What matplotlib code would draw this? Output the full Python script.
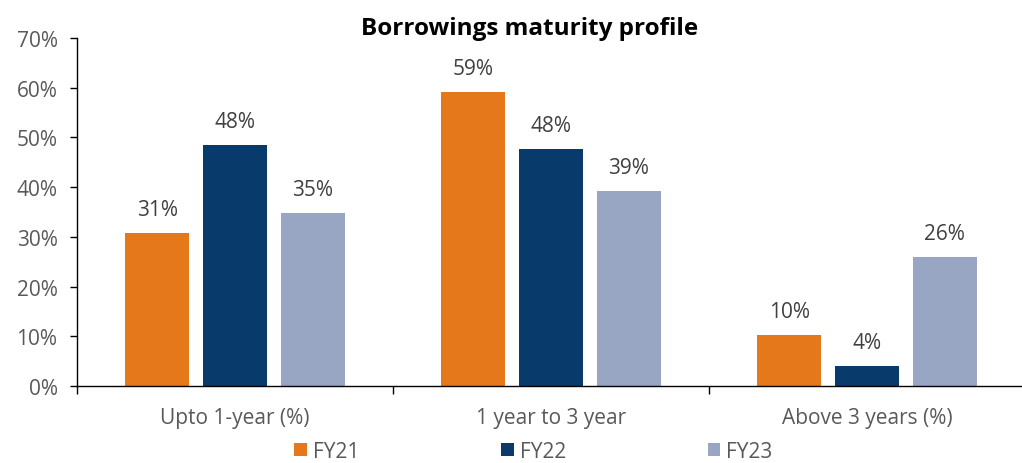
import matplotlib
matplotlib.use('Agg')

import numpy as np
import matplotlib.pyplot as plt

plt.rcParams['font.family'] = ['Open Sans', 'DejaVu Sans']

categories = ['Upto 1-year (%)', '1 year to 3 year', 'Above 3 years (%)']
series = ['FY21', 'FY22', 'FY23']
fy21 = [30.7, 59.1, 10.3]
fy22 = [48.4, 47.6, 4.0]
fy23 = [34.8, 39.2, 26.0]
colors = ['#E5781A', '#083A6B', '#98A6C3']

text_grey = '#595959'
fs = 15

fig = plt.figure(figsize=(10.22, 4.64), dpi=100)
ax = fig.add_axes([77 / 1022, 77 / 464, 948 / 1022, 348 / 464])

ind = np.arange(len(categories))
width = 0.203
step = 0.246

for i, (name, vals) in enumerate(zip(series, [fy21, fy22, fy23])):
    pos = ind + (i - 1) * step
    ax.bar(pos, vals, width, color=colors[i], label=name)
    for x, v in zip(pos, vals):
        ax.text(x, v + 2.6, '%d%%' % round(v), ha='center', va='bottom',
                fontsize=fs, color='#404040')

ax.set_xlim(-0.5, 2.5)
ax.set_ylim(0, 70)
ax.set_yticks(np.arange(0, 71, 10))
ax.set_yticklabels(['%d%%' % t for t in range(0, 71, 10)])
ax.set_xticks(ind)
ax.set_xticklabels(categories)
ax.set_xticks([-0.5, 0.5, 1.5, 2.5], minor=True)
ax.tick_params(axis='x', which='major', length=0, pad=15, labelsize=fs, labelcolor=text_grey)
ax.tick_params(axis='x', which='minor', length=6, width=1, color='black')
ax.tick_params(axis='y', length=5, width=1, labelsize=fs, labelcolor=text_grey, pad=9)

for s in ['top', 'right']:
    ax.spines[s].set_visible(False)
ax.spines['left'].set_linewidth(1)
ax.spines['bottom'].set_linewidth(1)

fig.text(0.518, 0.937, 'Borrowings maturity profile', ha='center', va='center',
         fontsize=17.5, fontweight='bold', color='black')

fig.legend(loc='lower center', bbox_to_anchor=(0.522, -0.038), ncol=3, frameon=False,
           fontsize=fs, handlelength=0.6, handleheight=0.6, handletextpad=0.3,
           columnspacing=6.8, labelcolor=text_grey)

plt.savefig('out.png', dpi=100)
plt.close(fig)
